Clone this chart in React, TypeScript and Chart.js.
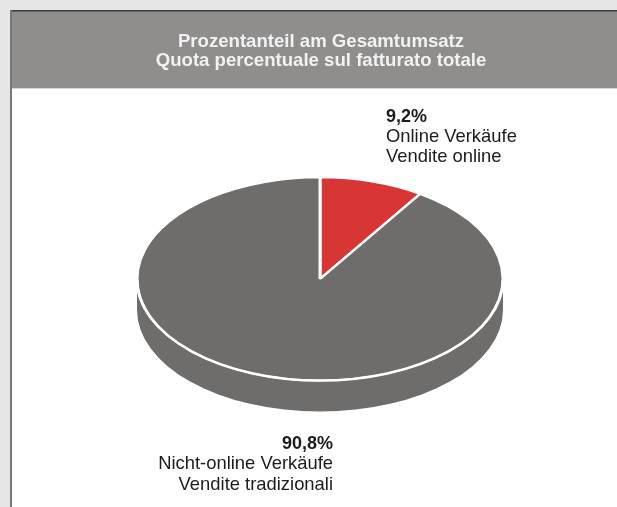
import React, { useEffect, useRef } from "react";
import { Chart, registerables } from "chart.js";

Chart.register(...registerables);

const titleLines = ["Prozentanteil am Gesamtumsatz", "Quota percentuale sul fatturato totale"];
const categoriesDe = ["Online Verkäufe", "Nicht-online Verkäufe"];
const categoriesIt = ["Vendite online", "Vendite tradizionali"];
const shares = [9.2, 90.8];
const sliceColors = ["#d83535", "#6e6d6b"];

const FONT = '"Liberation Sans", Arial, Helvetica, sans-serif';
const TILT = 0.555;
const DEPTH = 31;

const fmt = (v: number) => v.toFixed(1).replace(".", ",") + "%";

const pie3d = {
  id: "pie3d",
  beforeDraw(chart: any) {
    const ctx = chart.ctx as CanvasRenderingContext2D;
    const W = chart.width;
    const H = chart.height;
    ctx.save();
    ctx.fillStyle = "#e6e6e6";
    ctx.fillRect(0, 0, W, H);
    ctx.fillStyle = "#ffffff";
    ctx.fillRect(10, 10, W - 10, H - 10);
    ctx.fillStyle = "#8f8e8c";
    ctx.fillRect(10, 11, W - 10, 77);
    ctx.fillStyle = "#d6d6d6";
    ctx.fillRect(10, 88, W - 10, 1);
    ctx.fillStyle = "#3c3c3c";
    ctx.fillRect(10, 10, W - 10, 1.5);
    ctx.fillStyle = "#777777";
    ctx.fillRect(10, 10, 2, H - 10);
    ctx.fillStyle = "#f2f2f2";
    ctx.font = `bold 18.6px ${FONT}`;
    ctx.textAlign = "center";
    ctx.textBaseline = "alphabetic";
    ctx.fillText(titleLines[0], 321, 47);
    ctx.fillText(titleLines[1], 321, 66);
    ctx.restore();
  },
  beforeDatasetsDraw(chart: any) {
    const ctx = chart.ctx as CanvasRenderingContext2D;
    const meta = chart.getDatasetMeta(0);
    const first = meta.data[0] as any;
    const cx = first.x;
    const cy = first.y;
    const r = first.outerRadius;
    const ry = r * TILT;
    ctx.save();
    meta.data.forEach((arc: any, i: number) => {
      const s = arc.startAngle;
      const e = arc.endAngle;
      for (let k = -1; k <= 1; k++) {
        const lo = Math.max(s, 2 * Math.PI * k);
        const hi = Math.min(e, 2 * Math.PI * k + Math.PI);
        if (hi > lo) {
          ctx.beginPath();
          ctx.ellipse(cx, cy, r, ry, 0, lo, hi, false);
          ctx.ellipse(cx, cy + DEPTH, r, ry, 0, hi, lo, true);
          ctx.closePath();
          ctx.fillStyle = sliceColors[i];
          ctx.fill();
        }
      }
    });
    ctx.restore();
    ctx.save();
    ctx.translate(cx, cy);
    ctx.scale(1, TILT);
    ctx.translate(-cx, -cy);
  },
  afterDatasetsDraw(chart: any) {
    const ctx = chart.ctx as CanvasRenderingContext2D;
    ctx.restore();
    const meta = chart.getDatasetMeta(0);
    const first = meta.data[0] as any;
    const cx = first.x;
    const cy = first.y;
    const r = first.outerRadius;
    ctx.save();
    ctx.beginPath();
    ctx.ellipse(cx, cy, r, r * TILT, 0, 0, Math.PI, false);
    ctx.strokeStyle = "#ffffff";
    ctx.lineWidth = 2.5;
    ctx.stroke();
    ctx.restore();
  },
  afterDraw(chart: any) {
    const ctx = chart.ctx as CanvasRenderingContext2D;
    ctx.save();
    ctx.fillStyle = "#1c1c1c";
    ctx.textBaseline = "alphabetic";
    ctx.textAlign = "left";
    ctx.font = `bold 18px ${FONT}`;
    ctx.fillText(fmt(shares[0]), 386, 122);
    ctx.font = `18.4px ${FONT}`;
    ctx.fillText(categoriesDe[0], 386, 142);
    ctx.fillText(categoriesIt[0], 386, 162);
    ctx.textAlign = "right";
    ctx.font = `bold 18px ${FONT}`;
    ctx.fillText(fmt(shares[1]), 333, 449);
    ctx.font = `18.4px ${FONT}`;
    ctx.fillText(categoriesDe[1], 333, 469);
    ctx.fillText(categoriesIt[1], 333, 490);
    ctx.restore();
  },
};

export default function App() {
  const ref = useRef<HTMLCanvasElement | null>(null);
  useEffect(() => {
    if (!ref.current) return;
    const chart = new Chart(ref.current, {
      type: "pie",
      data: {
        labels: categoriesDe,
        datasets: [
          {
            data: shares,
            backgroundColor: sliceColors,
            borderColor: "#ffffff",
            borderWidth: 3,
            radius: 183,
          } as any,
        ],
      },
      options: {
        responsive: false,
        animation: false,
        layout: { padding: { left: 137, right: 114, top: 96, bottom: 45 } },
        plugins: {
          legend: { display: false },
          title: { display: false },
          tooltip: { enabled: false },
        },
      },
      plugins: [pie3d],
    });
    return () => chart.destroy();
  }, []);
  return (
    <canvas
      ref={ref}
      width={617}
      height={507}
      style={{ position: "absolute", left: 0, top: 0, display: "block" }}
    />
  );
}
